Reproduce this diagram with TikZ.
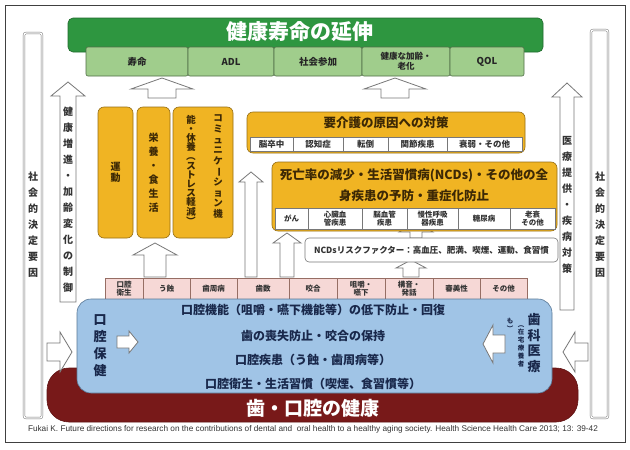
\documentclass[tikz,border=0pt]{standalone}
\usepackage{fontspec}
\usepackage{graphicx}
\setmainfont{Noto Sans CJK JP}
\newfontfamily\latinf{Liberation Sans}
\definecolor{tgreen}{RGB}{46,150,64}
\definecolor{lgreen}{RGB}{160,205,140}
\definecolor{lgborder}{RGB}{80,110,70}
\definecolor{orng}{RGB}{240,180,35}
\definecolor{orborder}{RGB}{150,110,20}
\definecolor{otext}{RGB}{60,40,5}
\definecolor{pinkf}{RGB}{246,216,214}
\definecolor{pinkb}{RGB}{150,110,100}
\definecolor{bluef}{RGB}{160,196,230}
\definecolor{blueb}{RGB}{90,120,150}
\definecolor{navy}{RGB}{25,40,75}
\definecolor{dred}{RGB}{120,25,25}
\definecolor{agray}{RGB}{120,120,120}
\ExplSyntaxOn
\NewDocumentCommand\vtext{O{1.1em}m}{\vbox{\baselineskip=#1\lineskiplimit=-100pt\tl_map_inline:nn{#2}{\hbox_to_wd:nn{1em}{\hss##1\hss}}}}
\ExplSyntaxOff
\newcommand\VL{{\rotatebox[origin=c]{-90}{ー}}}
\newcommand\VP{{\rotatebox[origin=c]{-90}{（}}}
\newcommand\VQ{{\rotatebox[origin=c]{-90}{）}}}
\newcommand\bx[7]{\node[#6,minimum width={(#4-#2)*1pt},minimum height={(#5-#3)*1pt}] (#1) at ({(#2+#4)/2},{(#3+#5)/2}) {#7};}
\newcommand\uparr[6]{\draw[barrow] (#1-#4,#3) -- (#1-#4,#2+#6) -- (#1-#5,#2+#6) -- (#1,#2) -- (#1+#5,#2+#6) -- (#1+#4,#2+#6) -- (#1+#4,#3) -- cycle;}
\newcommand\rarr[6]{\draw[barrow] (#1,#3-#4) -- (#2-#6,#3-#4) -- (#2-#6,#3-#5) -- (#2,#3) -- (#2-#6,#3+#5) -- (#2-#6,#3+#4) -- (#1,#3+#4) -- cycle;}
\newcommand\larr[6]{\draw[barrow] (#1,#3-#4) -- (#2+#6,#3-#4) -- (#2+#6,#3-#5) -- (#2,#3) -- (#2+#6,#3+#5) -- (#2+#6,#3+#4) -- (#1,#3+#4) -- cycle;}
\tikzset{
 every node/.style={inner sep=0pt,outer sep=0pt},
 barrow/.style={draw=agray,fill=white,line width=0.8pt,line join=miter},
 colbox/.style={draw=agray,double=white,double distance=1.2pt,line width=0.5pt,rounded corners=2pt},
 coltxt/.style={font=\fontsize{10}{12}\selectfont\bfseries,text=black!80},
 tbox/.style={fill=tgreen,draw=tgreen!70!black,line width=0.6pt,rounded corners=5pt},
 sgbox/.style={fill=lgreen,draw=lgborder,line width=0.6pt,rounded corners=2pt,font=\fontsize{9.5}{10}\selectfont\bfseries,align=center,text=black!85},
 obox/.style={fill=orng,draw=orborder,line width=0.6pt,rounded corners=6pt,text=otext,font=\fontsize{10}{12}\selectfont\bfseries},
 otxt/.style={text=otext,font=\fontsize{9.5}{12}\selectfont\bfseries},
 ohead/.style={text=otext,font=\fontsize{12.5}{21}\selectfont\bfseries,align=center},
 wcell/.style={fill=white,draw=agray,line width=0.5pt,align=center,text=black!80,font=\fontsize{8.5}{9}\selectfont\bfseries},
 ncell/.style={fill=white,draw=agray,line width=0.5pt,align=center,text=black!80,font=\fontsize{7.5}{8.5}\selectfont\bfseries},
 pcell/.style={fill=pinkf,draw=pinkb,line width=0.5pt,align=center,text=black!80,font=\fontsize{7.5}{8.5}\selectfont\bfseries},
 rbox/.style={fill=white,draw=agray,line width=0.6pt,rounded corners=4pt,text=black!80,font=\fontsize{8.5}{9}\selectfont\bfseries},
 bluebox/.style={fill=bluef,draw=blueb,line width=0.6pt,rounded corners=14pt},
 redbox/.style={fill=dred,draw=dred!80!black,line width=0.6pt,rounded corners=22pt},
 btxt/.style={text=navy,font=\fontsize{12}{12}\selectfont\bfseries},
}
\begin{document}
\begin{tikzpicture}[x=1pt,y=-1pt]
\useasboundingbox (0,0) rectangle (630,450);
\fill[white] (0,0) rectangle (630,450);
\draw[black!75,line width=0.9pt] (5,5) rectangle (625,442);
% social determinants columns
\draw[colbox] (24,33) rectangle (42,418);
\draw[colbox] (591,30) rectangle (608,418);
\node[coltxt] (sdl) at (33,225) {\vtext[16pt]{社会的決定要因}};
\node[coltxt] (sdr) at (600,225) {\vtext[16pt]{社会的決定要因}};
% inner vertical arrows
\uparr{68}{82}{302}{8}{17}{14}
\node[coltxt] (hp) at (68,200) {\vtext[16pt]{健康増進・加齢変化の制御}};
\uparr{567}{83}{310}{7}{15}{14}
\node[coltxt] (mc) at (567,205) {\vtext[16pt]{医療提供・疾病対策}};
% title
\bx{title}{68}{18}{543}{52}{tbox}{}
\node[font=\fontsize{21}{21}\selectfont\bfseries,text=white] (tt) at (300,32) {健康寿命の延伸};
\bx{s1}{86}{47}{188}{76}{sgbox}{寿命}
\bx{s2}{188}{47}{274}{76}{sgbox}{ADL}
\bx{s3}{274}{47}{362}{76}{sgbox}{社会参加}
\bx{s4}{362}{47}{450}{76}{sgbox}{\fontsize{8.5}{9.5}\selectfont 健康な加齢・\\\fontsize{8.5}{9.5}\selectfont 老化}
\bx{s5}{450}{47}{524}{76}{sgbox}{QOL}
\uparr{162}{78}{98}{14}{31}{11}
\uparr{395}{78}{98}{14}{31}{11}
% orange tall boxes
\bx{o1}{98}{107}{133}{238}{obox}{\vtext[11pt]{運動}}
\bx{o2}{137}{107}{170}{238}{obox}{\vtext[14pt]{栄養・食生活}}
\bx{o3}{173}{107}{233}{238}{obox}{}
\node[otxt,anchor=north] (o3a) at (218,115) {\vtext[10.6pt]{コミュニケ\VL ション機}};
\node[otxt,anchor=north] (o3b) at (191,115) {\vtext[9.2pt]{能・休養\VP ストレス軽減\VQ}};
% middle arrows
\uparr{155}{243}{277}{11}{22}{12}
\uparr{251}{172}{277}{6}{12}{10}
\uparr{287}{233}{277}{7}{14}{10}
\uparr{411}{260}{277}{8}{15}{8}
\uparr{416}{222}{238}{6}{17}{10}
% 要介護
\bx{yk}{247}{112}{525}{153}{obox}{}
\node[ohead] (ykt) at (386,123) {要介護の原因への対策};
\bx{y1}{250}{137}{293}{151}{wcell}{脳卒中}
\bx{y2}{293}{137}{343}{151}{wcell}{認知症}
\bx{y3}{343}{137}{388}{151}{wcell}{転倒}
\bx{y4}{388}{137}{447}{151}{wcell}{関節疾患}
\bx{y5}{447}{137}{522}{151}{wcell}{衰弱・その他}
% NCDs
\bx{ncd}{272}{162}{557}{231}{obox}{}
\node[ohead] (ncdt) at (414,185) {死亡率の減少・生活習慣病(NCDs)・その他の全\\身疾患の予防・重症化防止};
\bx{n1}{275}{208}{308}{229}{ncell}{がん}
\bx{n2}{308}{208}{362}{229}{ncell}{心臓血\\管疾患}
\bx{n3}{362}{208}{407}{229}{ncell}{脳血管\\疾患}
\bx{n4}{407}{208}{458}{229}{ncell}{慢性呼吸\\器疾患}
\bx{n5}{458}{208}{510}{229}{ncell}{糖尿病}
\bx{n6}{510}{208}{555}{229}{ncell}{老衰\\その他}
% risk factors
\bx{risk}{305}{238}{558}{262}{rbox}{NCDsリスクファクター：高血圧、肥満、喫煙、運動、食習慣}
% pink row
\bx{p1}{105}{278}{143}{299}{pcell}{口腔\\衛生}
\bx{p2}{143}{278}{190}{299}{pcell}{う蝕}
\bx{p3}{190}{278}{237}{299}{pcell}{歯周病}
\bx{p4}{237}{278}{289}{299}{pcell}{歯数}
\bx{p5}{289}{278}{337}{299}{pcell}{咬合}
\bx{p6}{337}{278}{385}{299}{pcell}{咀嚼・\\嚥下}
\bx{p7}{385}{278}{433}{299}{pcell}{構音・\\発話}
\bx{p8}{433}{278}{480}{299}{pcell}{審美性}
\bx{p9}{480}{278}{527}{299}{pcell}{その他}
% red and blue
\bx{red}{47}{368}{578}{422}{redbox}{}
\node[font=\fontsize{19}{19}\selectfont\bfseries,text=white] (redt) at (313,408) {歯・口腔の健康};
\bx{blue}{77}{299}{552}{393}{bluebox}{}
\node[btxt] (b1) at (313,310) {口腔機能（咀嚼・嚥下機能等）の低下防止・回復};
\node[btxt] (b2) at (313,336) {歯の喪失防止・咬合の保持};
\node[btxt] (b3) at (313,360) {口腔疾患（う蝕・歯周病等）};
\node[btxt] (b4) at (313,384) {口腔衛生・生活習慣（喫煙、食習慣等）};
\node[btxt,font=\fontsize{13}{13}\selectfont\bfseries] (ok) at (100,346) {\vtext[17pt]{口腔保健}};
\node[btxt,font=\fontsize{13}{13}\selectfont\bfseries] (sk) at (534,343) {\vtext[15.5pt]{歯科医療}};
\node[btxt,font=\fontsize{6.5}{7}\selectfont\bfseries,anchor=north] (zt) at (521,321) {\vtext[8pt]{\VP 在宅療養者}};
\node[btxt,font=\fontsize{6.5}{7}\selectfont\bfseries,anchor=north] (zt2) at (510,318) {\vtext[8pt]{も\VQ}};
% side arrows
\rarr{47}{72}{352}{9}{20}{12}
\larr{588}{563}{352}{9}{20}{12}
\rarr{117}{138}{342}{6}{11}{9}
\larr{505}{483}{344}{9}{19}{10}
% citation
\node[font=\latinf\fontsize{7}{7}\selectfont,anchor=west,text=black!80] (cit) at (28,429) {\resizebox{570pt}{!}{Fukai K. Future directions for research on the contributions of dental and\ \ oral health to a healthy aging society. Health Science Health Care 2013; 13: 39-42}};
\end{tikzpicture}
\end{document}
